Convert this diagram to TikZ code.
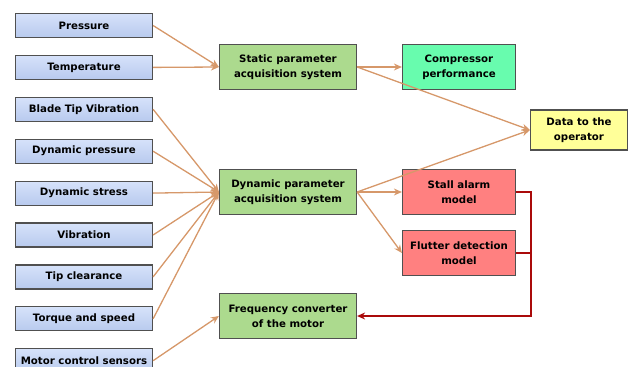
\documentclass[tikz,border=0pt]{standalone}
\usepackage{fontspec}
\setmainfont{DejaVu Sans}
\usepackage{tikz}
\usetikzlibrary{arrows.meta,positioning}

\definecolor{sensortop}{RGB}{214,226,250}
\definecolor{sensorbot}{RGB}{184,202,238}
\definecolor{unitgreen}{RGB}{172,218,142}
\definecolor{perfmint}{RGB}{104,252,174}
\definecolor{modelred}{RGB}{255,128,128}
\definecolor{outyellow}{RGB}{255,255,153}
\definecolor{arrtan}{RGB}{214,152,106}
\definecolor{linered}{RGB}{170,10,10}
\definecolor{edgegray}{RGB}{80,80,80}

\begin{document}
\begin{tikzpicture}[
    x=1pt, y=-1pt,
    node distance=16.7pt,
    sensor/.style={rectangle, draw=edgegray, line width=1.2pt,
      top color=sensortop, bottom color=sensorbot,
      minimum width=137pt, minimum height=24pt, inner sep=1pt,
      font=\bfseries\fontsize{10.2}{12}\selectfont},
    unit/.style={rectangle, draw=edgegray, line width=1.2pt, fill=unitgreen,
      minimum width=137pt, minimum height=45pt, align=center,
      font=\bfseries\fontsize{10.2}{15}\selectfont},
    model/.style={unit, minimum width=113pt},
    arr/.style={-{Stealth[length=8pt,width=7pt]}, draw=arrtan, fill=arrtan!70!white, line width=1.3pt},
    redarr/.style={-{Stealth[length=8pt,width=7pt]}, draw=linered, line width=1.6pt}
  ]
    \useasboundingbox (0,0) rectangle (633,367);
    % sensors on the left
    \node[sensor] (pres) at (84,25.5) {Pressure};
    \node[sensor, below=of pres] (temp) {Temperature};
    \node[sensor, below=of temp] (blade) {Blade Tip Vibration};
    \node[sensor, below=of blade] (dynp) {Dynamic pressure};
    \node[sensor, below=of dynp] (dyns) {Dynamic stress};
    \node[sensor, below=of dyns] (vib) {Vibration};
    \node[sensor, below=of vib] (tipc) {Tip clearance};
    \node[sensor, below=of tipc] (torq) {Torque and speed};
    \node[sensor, below=of torq] (motor) {Motor control sensors};
    % acquisition and models
    \node[unit] (stat) at (288,67) {Static parameter\\acquisition system};
    \node[unit] (dyn) at (288,192) {Dynamic parameter\\acquisition system};
    \node[unit] (freq) at (288,316) {Frequency converter\\of the motor};
    \node[model, fill=perfmint] (comp) at (459,67) {Compressor\\performance};
    \node[model, fill=modelred] (stall) at (459,192) {Stall alarm\\model};
    \node[model, fill=modelred] (flut) at (459,253) {Flutter detection\\model};
    \node[model, fill=outyellow, minimum width=97pt, minimum height=40pt] (data) at (579,130) {Data to the\\operator};
    \foreach \i in {pres,temp}
      \draw[arr] (\i.east) -- (stat.west);
    \foreach \i in {blade,dynp,dyns,vib,tipc,torq}
      \draw[arr] (\i.east) -- (dyn.west);
    \draw[arr] (motor.east) -- (freq.west);
    \draw[arr] (stat.east) -- (comp.west);
    \draw[arr] (stat.east) -- (data.west);
    \draw[arr] (dyn.east) -- (data.west);
    \draw[arr] (dyn.east) -- (stall.west);
    \draw[arr] (dyn.east) -- (flut.west);
    \draw[redarr] (stall.east) -- ++(15,0) coordinate (bus) |- (freq.east);
    \draw[redarr, -] (flut.east) -- (flut.east -| bus);
  \end{tikzpicture}
\end{document}
